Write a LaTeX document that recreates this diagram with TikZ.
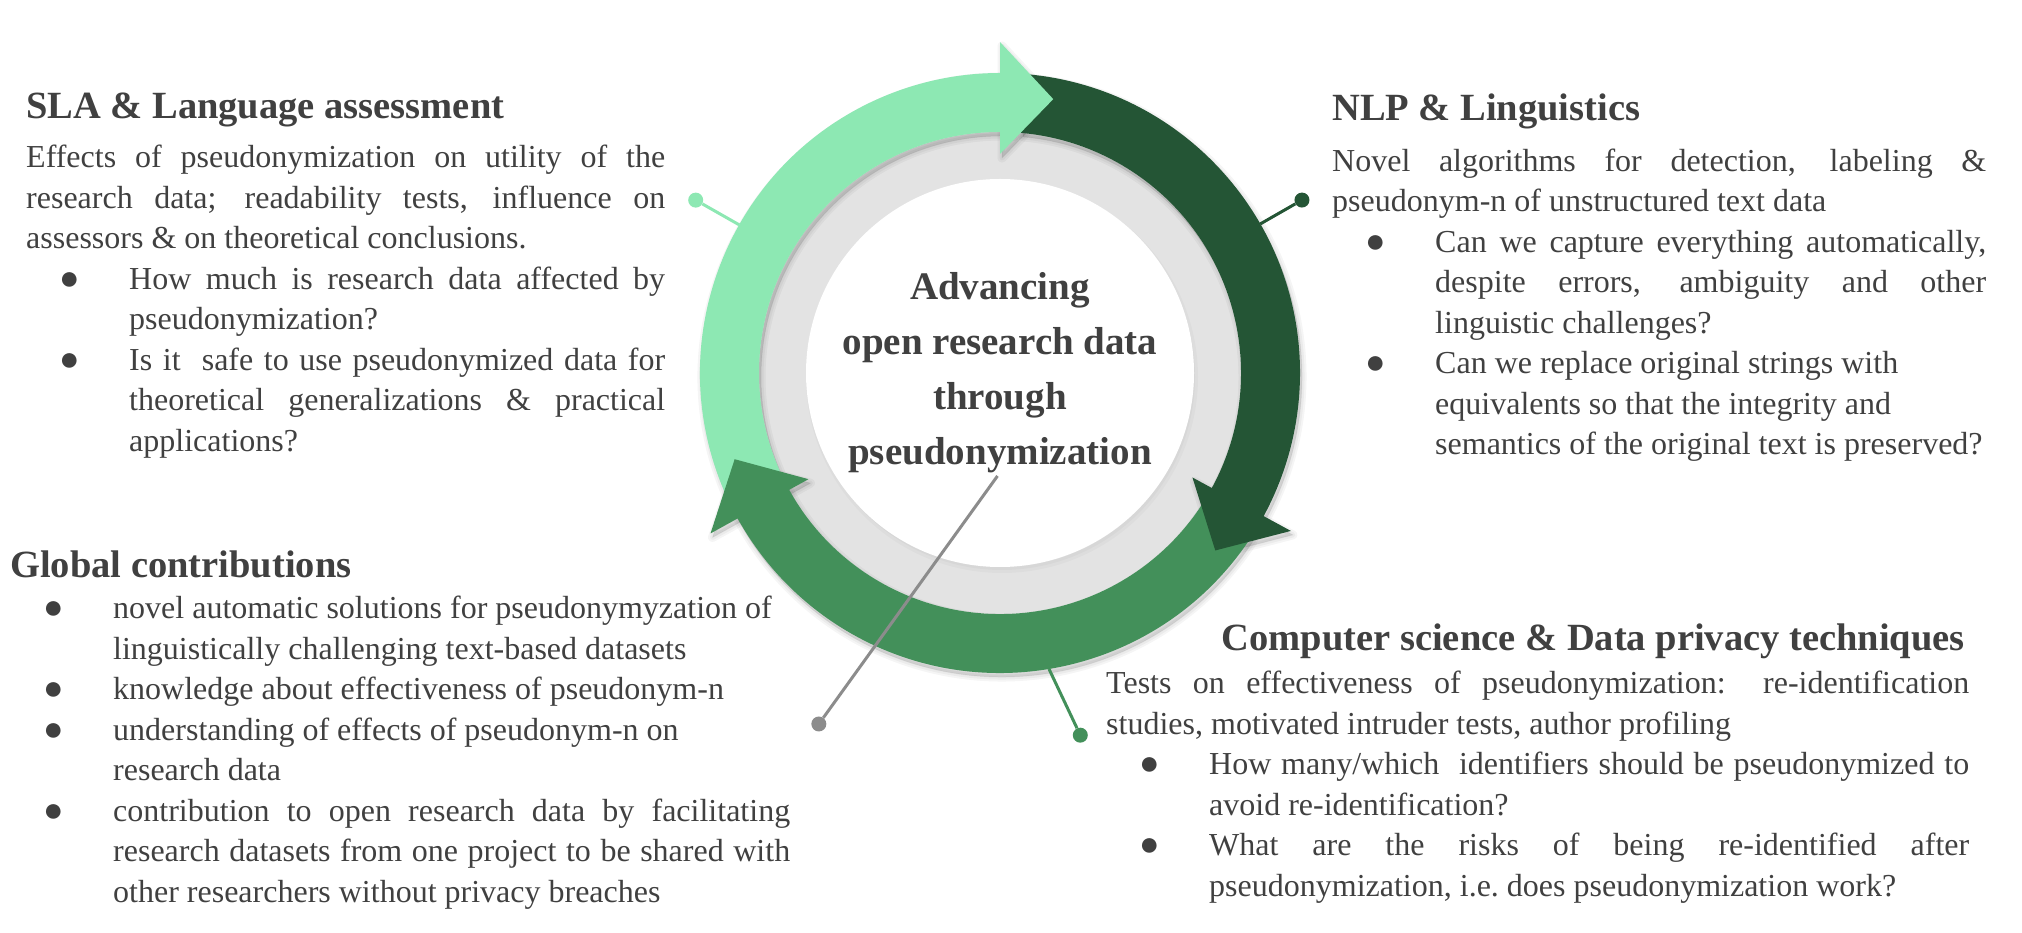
\documentclass[tikz,border=0pt]{standalone}
\usepackage{fontspec}
\setmainfont{Liberation Serif}
\usetikzlibrary{calc}
\definecolor{mintgreen}{HTML}{8DE8B3}
\definecolor{darkgreen}{HTML}{245535}
\definecolor{midgreen}{HTML}{43905A}
\definecolor{ringgray}{HTML}{E3E3E3}
\definecolor{inkgray}{HTML}{404040}
\definecolor{linkgray}{HTML}{8C8C8C}
\tolerance=10000 \hbadness=10000 \hyphenpenalty=10000 \exhyphenpenalty=10000
\newcommand\bpoint{\hangindent=103pt\hangafter=0\noindent\llap{\makebox[70pt][l]{\fontsize{34}{34}\selectfont ●}}}
\tikzset{
  headtext/.style={inner sep=0, text=inkgray, font=\fontsize{38.5}{44}\selectfont\bfseries},
  bodytext/.style={inner sep=0, text=inkgray, align=justify, font=\fontsize{32}{40.5}\selectfont},
  enddot/.style={circle, fill=#1, inner sep=0, minimum size=15pt},
  linkline/.style={line width=3pt, draw=#1},
  softshade/.style={fill=black, draw=black, opacity=0.04, line width=#1, line join=round},
}
\begin{document}
\begin{tikzpicture}[x=1pt,y=1pt]
    \useasboundingbox (0,0) rectangle (2022,932);
    \coordinate (C) at (1000,559);
    \coordinate (S) at ($(C)+(2,-4)$);
    % ring
    \fill[ringgray] (C) circle[radius=241];
    \path[softshade=6, opacity=0.025] (S) circle[radius=193];
    \fill[white] (C) circle[radius=194];
    % shadows
    \foreach \w in {9,5,1}
    {
        \foreach \s/\e in {204/87, 85/-31.5, -33/-154}
        {
            \path[softshade=\w, shift={(S)}] (\s:300) arc[start angle=\s, end angle=\e, radius=300] -- (\e:241) arc[start angle=\e, end angle=\s, radius=241] -- cycle;
        }
        \foreach \b in {90, -28.5, 209}
        {
            \path[softshade=\w, shift={(S)}] (\b:331) -- ({\b-11}:279) -- (\b:219) -- cycle;
        }
    }
    % arrow bands
    \foreach \s/\e/\col in {204/87/mintgreen, 85/-31.5/darkgreen, -33/-154/midgreen}
    {
        \fill[\col, shift={(C)}] (\s:300) arc[start angle=\s, end angle=\e, radius=300] -- (\e:241) arc[start angle=\e, end angle=\s, radius=241] -- cycle;
    }
    % arrow heads
    \foreach \b/\col in {90/mintgreen, -28.5/darkgreen, 209/midgreen}
    {
        \fill[\col, shift={(C)}] (\b:331) -- ({\b-11}:279) -- (\b:219) -- cycle;
    }
    % centre
    \node[inner sep=0, text=inkgray, align=center, font=\fontsize{39}{55}\selectfont\bfseries] (centre) at (C) {Advancing\\open research data\\through\\pseudonymization};
    % links
    \coordinate (slaRing) at ($(C)+(150.4:300)$);
    \node[enddot=mintgreen] (slaDot) at ($(C)+(150.4:350)$) {};
    \draw[linkline=mintgreen] (slaRing) -- (slaDot);
    \coordinate (nlpRing) at ($(C)+(29.8:300)$);
    \node[enddot=darkgreen] (nlpDot) at ($(C)+(29.8:348)$) {};
    \draw[linkline=darkgreen] (nlpRing) -- (nlpDot);
    \coordinate (compRing) at ($(C)+(-80.6:300)$);
    \node[enddot=midgreen] (compDot) at ($(C)+(-77.5:371)$) {};
    \draw[linkline=midgreen] (compRing) -- (compDot);
    \coordinate (globStart) at ($(C)+(-91.4:103)$);
    \node[enddot=linkgray] (globDot) at ($(C)+(-117.3:395)$) {};
    \draw[linkline=linkgray] (globStart) -- (globDot);
    % SLA
    \node[headtext, anchor=base west] (slaHead) at (26,813) {SLA \& Language assessment};
    \node[bodytext, text width=639pt, anchor=base west] (slaBody) at (26,764) {Effects of pseudonymization on utility of the\linebreak research data; readability tests, influence on\linebreak assessors \& on theoretical conclusions.\par
        \bpoint How much is research data affected by\linebreak pseudonymization?\par
        \bpoint Is it\ \ safe to use pseudonymized data for\linebreak theoretical generalizations \& practical\linebreak applications?\par};
    % NLP
    \node[headtext, anchor=base west] (nlpHead) at (1332,811) {NLP \& Linguistics};
    \node[bodytext, text width=654pt, anchor=base west] (nlpBody) at (1332,760.5) {Novel algorithms for detection, labeling \&\linebreak pseudonym-n of unstructured text data\par
        \bpoint Can we capture everything automatically,\linebreak despite errors, ambiguity and other\linebreak linguistic challenges?\par
        \bpoint Can we replace original strings with\newline equivalents so that the integrity and\newline semantics of the original text is preserved?\par};
    % global
    \node[headtext, anchor=base west] (globHead) at (10,354) {Global contributions};
    \node[bodytext, text width=780pt, anchor=base west] (globBody) at (10,313) {\bpoint novel automatic solutions for pseudonymyzation of\newline linguistically challenging text-based datasets\par
        \bpoint knowledge about effectiveness of pseudonym-n\par
        \bpoint understanding of effects of pseudonym-n on\newline research data\par
        \bpoint contribution to open research data by facilitating\linebreak research datasets from one project to be shared with\linebreak other researchers without privacy breaches\par};
    % computer science
    \node[headtext, anchor=base east] (compHead) at (1965,281) {Computer science \& Data privacy techniques};
    \node[bodytext, text width=863pt, anchor=base west] (compBody) at (1106,238) {Tests on effectiveness of pseudonymization: re-identification\linebreak studies, motivated intruder tests, author profiling\par
        \bpoint How many/which\ \ identifiers should be pseudonymized to\linebreak avoid re-identification?\par
        \bpoint What are the risks of being re-identified after\linebreak pseudonymization, i.e.\ does pseudonymization work?\par};
\end{tikzpicture}
\end{document}
